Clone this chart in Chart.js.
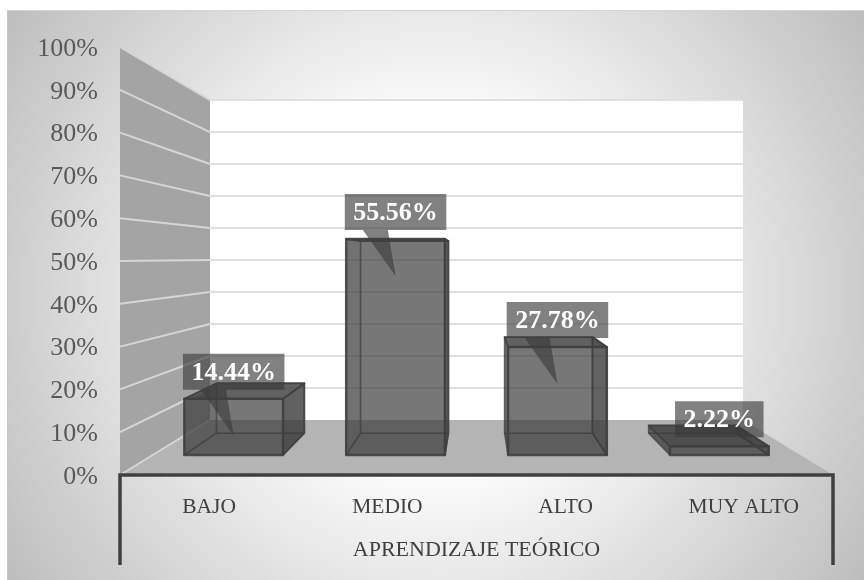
<!DOCTYPE html>
<html><head><meta charset="utf-8">
<style>html,body{margin:0;padding:0;background:#fff}canvas{display:block}</style>
<script src="https://cdn.jsdelivr.net/npm/chart.js@4"></script>
</head><body>
<canvas id="c" width="864" height="580"></canvas>
<script>
const categories = ['BAJO','MEDIO','ALTO','MUY ALTO'];
const values = [14.44,55.56,27.78,2.22];
const valueLabels = ['14.44%','55.56%','27.78%','2.22%'];
const tickStep = 10;
const axisTitle = 'APRENDIZAJE TEÓRICO';

const SERIF = '"Liberation Serif", serif';
// perspective model: depth t runs 0 (front edge of floor) to 1 (back wall)
const INSET = 90, RISE = 55, SHRINK = INSET*2/713;
const FRONT_T = 0.364, BACK_T = 0.76, HALF = 0.305;

function projector(chart){
  const xS = chart.scales.x, yS = chart.scales.y;
  const area = chart.chartArea;
  const cx = (area.left+area.right)/2, base = area.bottom;
  return (i,v,t)=>{
    const s = 1-SHRINK*t;
    return [cx+(xS.getPixelForValue(i)-cx)*s, base-RISE*t-(base-yS.getPixelForValue(v))*s];
  };
}
function poly(ctx,pts,fill,stroke,lw){
  ctx.beginPath();
  pts.forEach((p,k)=>k?ctx.lineTo(p[0],p[1]):ctx.moveTo(p[0],p[1]));
  ctx.closePath();
  if(fill){ctx.fillStyle=fill;ctx.fill();}
  if(stroke){ctx.strokeStyle=stroke;ctx.lineWidth=lw;ctx.lineJoin='round';ctx.stroke();}
}
const scene = {
  id:'scene',
  beforeDraw(chart){
    const ctx=chart.ctx, W=chart.width, H=chart.height;
    ctx.save();
    ctx.fillStyle='#fff';ctx.fillRect(0,0,W,H);
    const g=ctx.createRadialGradient(435,295,0,435,295,520);
    g.addColorStop(0,'#ffffff');g.addColorStop(0.35,'#fbfbfb');g.addColorStop(1,'#bcbcbc');
    ctx.fillStyle=g;ctx.fillRect(7,10,W-7,H-10);
    ctx.fillStyle='#d4d4d4';ctx.fillRect(7,10,W-7,1);
    ctx.fillStyle='#c4c4c4';ctx.fillRect(7,10,1,H-10);
    ctx.restore();
  },
  beforeDatasetsDraw(chart){
    const ctx=chart.ctx, a=chart.chartArea, yS=chart.scales.y, P=projector(chart);
    const L=-0.5, R=categories.length-0.5;
    const yMax=yS.max, yMin=yS.min;
    ctx.save();
    poly(ctx,[P(L,yMax,0),P(L,yMax,1),P(L,yMin,1),P(L,yMin,0)],'#a4a4a4');
    poly(ctx,[P(L,yMax,1),P(R,yMax,1),P(R,yMin,1),P(L,yMin,1)],'#ffffff');
    poly(ctx,[P(L,yMin,0),P(L,yMin,1),P(R,yMin,1),P(R,yMin,0)],'#b4b4b4');
    ctx.lineWidth=2;
    yS.ticks.forEach(tk=>{
      const a0=P(L,tk.value,0),a1=P(L,tk.value,1),a2=P(R,tk.value,1);
      ctx.strokeStyle='#d6d6d6';
      ctx.beginPath();ctx.moveTo(a0[0],a0[1]);ctx.lineTo(a1[0],a1[1]);ctx.stroke();
      if(tk.value>yMin){
        ctx.strokeStyle='#e0e0e0';
        ctx.beginPath();ctx.moveTo(a1[0],a1[1]);ctx.lineTo(a2[0],a2[1]);ctx.stroke();
      }
    });
    // axis frame
    ctx.strokeStyle='#404040';ctx.lineWidth=3.5;ctx.lineCap='butt';
    ctx.beginPath();
    ctx.moveTo(a.left,565);ctx.lineTo(a.left,a.bottom);ctx.lineTo(a.right,a.bottom);ctx.lineTo(a.right,565);
    ctx.stroke();
    ctx.restore();
  },
  afterDatasetsDraw(chart){
    const ctx=chart.ctx, P=projector(chart);
    const edge='rgba(64,64,64,0.85)', inner='rgba(60,60,60,0.45)';
    ctx.save();
    const anchors=values.map((v,i)=>P(i,v,FRONT_T));
    // callout boxes sit behind the glassy bars
    ctx.font='bold 26px '+SERIF;
    ctx.textAlign='center';ctx.textBaseline='middle';
    anchors.forEach((p,i)=>{
      const w=ctx.measureText(valueLabels[i]).width+17, h=36;
      const x=p[0]-w/2, y=p[1]-45;
      ctx.beginPath();
      ctx.moveTo(x,y);ctx.lineTo(x+w,y);ctx.lineTo(x+w,y+h);
      if(values[i]>5){
        ctx.lineTo(x+43,y+h);ctx.lineTo(p[0],y+h+46);ctx.lineTo(x+18,y+h);
      }
      ctx.lineTo(x,y+h);ctx.closePath();
      ctx.fillStyle='rgba(64,64,64,0.66)';ctx.fill();
    });
    values.forEach((v,i)=>{
      const l=i-HALF, r=i+HALF;
      const fbl=P(l,0,FRONT_T), fbr=P(r,0,FRONT_T), ftl=P(l,v,FRONT_T), ftr=P(r,v,FRONT_T);
      const bbl=P(l,0,BACK_T), bbr=P(r,0,BACK_T), btl=P(l,v,BACK_T), btr=P(r,v,BACK_T);
      poly(ctx,[bbl,bbr,btr,btl],'rgba(60,60,60,0.46)',inner,1.5);
      poly(ctx,[fbl,bbl,btl,ftl],'rgba(60,60,60,0.5)',inner,1.5);
      poly(ctx,[fbl,fbr,bbr,bbl],'rgba(60,60,60,0.5)',inner,1.5);
      poly(ctx,[fbr,bbr,btr,ftr],'rgba(55,55,55,0.62)',edge,1.8);
      poly(ctx,[ftl,ftr,btr,btl],'rgba(55,55,55,0.62)',edge,1.8);
      poly(ctx,[fbl,fbr,ftr,ftl],'rgba(60,60,60,0.44)',edge,2.5);
    });
    ctx.fillStyle='#ffffff';
    anchors.forEach((p,i)=>ctx.fillText(valueLabels[i],p[0],p[1]-45+19));
    ctx.restore();
  }
};
new Chart(document.getElementById('c'),{
  type:'bar',
  data:{labels:categories,datasets:[{data:values,backgroundColor:'rgba(0,0,0,0)',borderWidth:0,barPercentage:0.61,categoryPercentage:1}]},
  plugins:[scene],
  options:{
    responsive:false,animation:false,
    layout:{padding:{left:0,right:31,top:47,bottom:0}},
    plugins:{legend:{display:false},tooltip:{enabled:false},title:{display:false}},
    scales:{
      x:{
        afterFit(s){s.height=105;},
        grid:{display:false},border:{display:false},
        ticks:{color:'#404040',font:{family:SERIF,size:21.5},padding:11,maxRotation:0,autoSkip:false},
        title:{display:true,text:axisTitle,color:'#404040',font:{family:SERIF,size:22},padding:{top:11,bottom:17}}
      },
      y:{
        min:0,max:100,
        afterFit(s){s.width=120;},
        grid:{display:false},border:{display:false},
        ticks:{stepSize:tickStep,color:'#595959',font:{family:SERIF,size:26},padding:14,labelOffset:2,callback:v=>v+'%'}
      }
    }
  }
});
</script>
</body></html>
